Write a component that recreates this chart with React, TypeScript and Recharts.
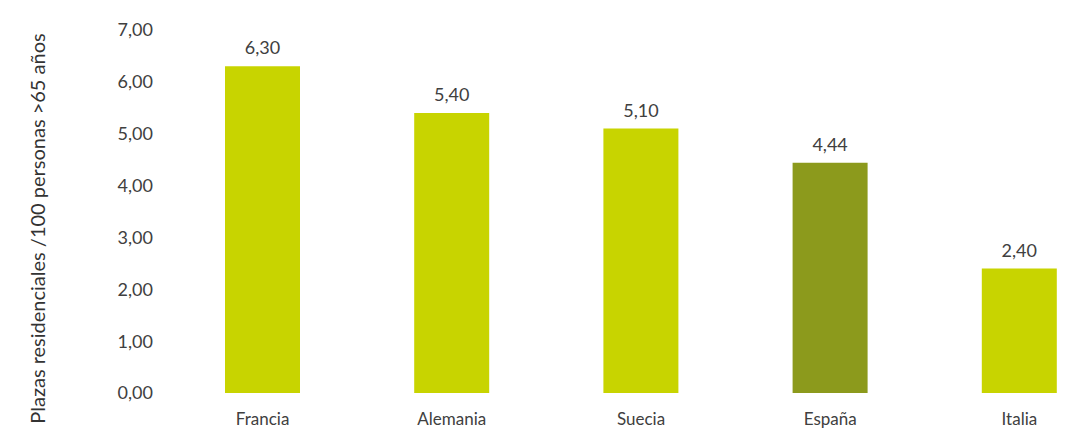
import React from 'react';
import { BarChart, Bar, XAxis, YAxis, Cell, LabelList } from 'recharts';

const categories = ['Francia', 'Alemania', 'Suecia', 'España', 'Italia'];
const values = [6.3, 5.4, 5.1, 4.44, 2.4];
const barColors = ['#C8D400', '#C8D400', '#C8D400', '#8C9A1C', '#C8D400'];
const yTicks = [0, 1, 2, 3, 4, 5, 6, 7];
const yLabel = 'Plazas residenciales /100 personas >65 años';

const data = categories.map((c, i) => ({ name: c, value: values[i] }));

const fmt = (v: number) => v.toFixed(2).replace('.', ',');
const FONT = 'Lato, "Open Sans", sans-serif';

const YLabel = (props: any) => {
  const vb = props.viewBox || {};
  const x = vb.x + 29;
  const y = vb.y + vb.height / 2 + 17;
  return (
    <text
      x={x}
      y={y}
      transform={`rotate(-90, ${x}, ${y})`}
      textAnchor="middle"
      dominantBaseline="central"
      fill="#333333"
      fontSize={20}
      fontFamily={FONT}
    >
      {yLabel}
    </text>
  );
};

export default function App() {
  return (
    <div style={{ width: 1073, height: 422, overflow: 'hidden', background: '#fff' }}>
      <BarChart
        width={1110}
        height={422}
        data={data}
        margin={{ top: 22, right: 4, bottom: 0, left: 0 }}
        barCategoryGap={0}
      >
        <XAxis
          dataKey="name"
          height={37}
          axisLine={false}
          tickLine={false}
          tickSize={0}
          tickMargin={20}
          interval={0}
          tick={{ fill: '#404040', fontSize: 17, fontFamily: FONT }}
        />
        <YAxis
          width={160}
          domain={[0, 7]}
          ticks={yTicks}
          axisLine={false}
          tickLine={false}
          tickSize={0}
          tickMargin={15}
          tickFormatter={fmt}
          tick={{ fill: '#404040', fontSize: 18, fontFamily: FONT }}
          label={<YLabel />}
        />
        <Bar dataKey="value" barSize={75} isAnimationActive={false}>
          {data.map((d, i) => (
            <Cell key={d.name} fill={barColors[i]} />
          ))}
          <LabelList
            dataKey="value"
            position="top"
            offset={12}
            formatter={(v: any) => fmt(Number(v))}
            fill="#404040"
            fontSize={18}
            fontFamily={FONT}
          />
        </Bar>
      </BarChart>
    </div>
  );
}
